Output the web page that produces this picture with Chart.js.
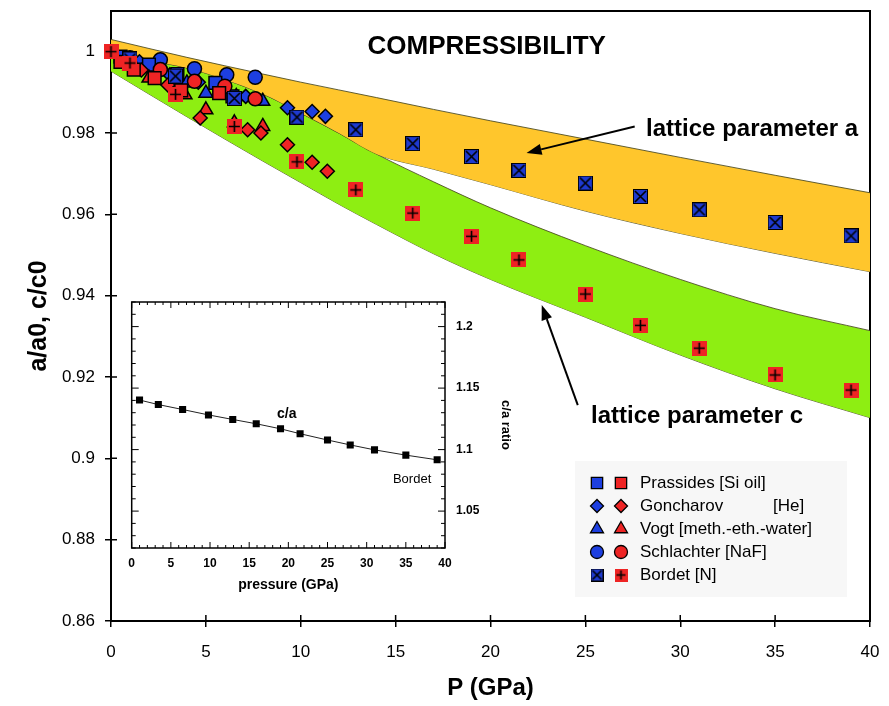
<!DOCTYPE html>
<html>
<head>
<meta charset="utf-8">
<script src="https://cdn.jsdelivr.net/npm/chart.js@4.4.0/dist/chart.umd.min.js"></script>
<style>
  html, body { margin: 0; padding: 0; background: #fff; }
  #wrap { position: relative; width: 889px; height: 706px; }
  #main { position: absolute; left: 0; top: 0; width: 889px; height: 706px; }
  #inset { position: absolute; left: 100px; top: 290px; width: 430px; height: 320px; }
</style>
</head>
<body>
<div id="wrap">
  <canvas id="main" width="889" height="706"></canvas>
  <canvas id="inset" width="430" height="320"></canvas>
</div>
<script>
// ---- main plot: P (GPa) vs a/a0, c/c0 ----
const X_TICKS = [0, 5, 10, 15, 20, 25, 30, 35, 40];
const Y_TICKS = [0.86, 0.88, 0.9, 0.92, 0.94, 0.96, 0.98, 1];

// shaded bands (upper / lower edges)
const BAND_P     = [0, 4, 8, 10, 12, 14, 17, 20, 25, 30, 35, 40];
const BAND_A_TOP = [1.0030, 0.9986, 0.9945, 0.9925, 0.9906, 0.9887, 0.9858, 0.9830, 0.9785, 0.9740, 0.9696, 0.9653];
const BAND_A_BOT = [0.9990, 0.9960, 0.9896, 0.9849, 0.9800, 0.9748, 0.9711, 0.9673, 0.9608, 0.9553, 0.9504, 0.9459];
const BAND_C_TOP = [0.9990, 0.9960, 0.9896, 0.9849, 0.9800, 0.9748, 0.9680, 0.9616, 0.9523, 0.9440, 0.9368, 0.9314];
const BAND_C_BOT = [0.9952, 0.9840, 0.9731, 0.9678, 0.9625, 0.9575, 0.9503, 0.9440, 0.9347, 0.9254, 0.9171, 0.9100];

// Prassides [Si oil]
const PRASSIDES_P_A = [0.5, 2.0, 3.5, 5.5, 6.4];
const PRASSIDES_A   = [0.9988, 0.9968, 0.9945, 0.9923, 0.9890];
const PRASSIDES_P_C = [0.5, 1.2, 2.3, 3.7, 5.7];
const PRASSIDES_C   = [0.9975, 0.9956, 0.9935, 0.9905, 0.9898];

// Goncharov [He]
const GONCHAROV_P_A = [1.5, 3.1, 4.6, 7.1, 9.3, 10.6, 11.3];
const GONCHAROV_A   = [0.9975, 0.9943, 0.9925, 0.9890, 0.9862, 0.9853, 0.9841];
const GONCHAROV_P_C = [1.6, 3.0, 4.7, 7.2, 7.9, 9.3, 10.6, 11.4];
const GONCHAROV_C   = [0.9955, 0.9918, 0.9837, 0.9808, 0.9800, 0.9771, 0.9728, 0.9706];

// Vogt [meth.-eth.-water]
const VOGT_P_A = [1.2, 2.2, 4.0, 5.0, 6.6, 8.0];
const VOGT_A   = [0.9978, 0.9960, 0.9923, 0.9898, 0.9890, 0.9878];
const VOGT_P_C = [1.0, 2.0, 3.9, 5.0, 6.5, 8.0];
const VOGT_C   = [0.9965, 0.9935, 0.9894, 0.9857, 0.9825, 0.9816];

// Schlachter [NaF]
const SCHLACHTER_P_A = [1.0, 2.6, 4.4, 6.1, 7.6];
const SCHLACHTER_A   = [0.9985, 0.9980, 0.9958, 0.9943, 0.9937];
const SCHLACHTER_P_C = [1.0, 2.6, 4.4, 6.0, 7.6];
const SCHLACHTER_C   = [0.9970, 0.9956, 0.9927, 0.9915, 0.9884];

// Bordet [N]
const BORDET_P = [0, 1, 3.4, 6.5, 9.8, 12.9, 15.9, 19, 21.5, 25, 27.9, 31, 35, 39];
const BORDET_A = [1, 0.9982, 0.9940, 0.9885, 0.9839, 0.9808, 0.9774, 0.9742, 0.9708, 0.9677, 0.9644, 0.9611, 0.9580, 0.9547];
const BORDET_C = [1, 0.9972, 0.9895, 0.9816, 0.9729, 0.9660, 0.9603, 0.9546, 0.9488, 0.9404, 0.9327, 0.9271, 0.9205, 0.9168];

// ---- inset: c/a ratio (Bordet) ----
const INSET_X_TICKS = [0, 5, 10, 15, 20, 25, 30, 35, 40];
const INSET_Y_TICKS = [1.05, 1.1, 1.15, 1.2];
const INSET_P  = [1, 3.4, 6.5, 9.8, 12.9, 15.9, 19, 21.5, 25, 27.9, 31, 35, 39];
const CA_RATIO = [1.1403, 1.1366, 1.1326, 1.1282, 1.1245, 1.1210, 1.1169, 1.1129, 1.1078, 1.1038, 1.0998, 1.0955, 1.0917];

const FONT = '"Liberation Sans", Arial, Helvetica, sans-serif';
const BLUE = '#1d3fe0';
const RED = '#ee2424';
const ORANGE = '#ffc62c';
const GREEN = '#8eee12';
const EDGE = 'rgba(70,70,30,0.85)';

Chart.defaults.font.family = FONT;
Chart.defaults.color = '#000';

const pts = (xs, ys) => xs.map((x, i) => ({ x: x, y: ys[i] }));

// filled square with an X or + drawn in black (Bordet markers)
function boxMarker(fill, mark, size) {
  const c = document.createElement('canvas');
  c.width = size; c.height = size;
  const g = c.getContext('2d');
  g.fillStyle = fill;
  g.fillRect(0, 0, size, size);
  g.strokeStyle = '#000';
  g.lineWidth = 1.6;
  g.beginPath();
  const m = 2, h = size / 2;
  if (mark === 'x') {
    g.moveTo(m, m); g.lineTo(size - m, size - m);
    g.moveTo(size - m, m); g.lineTo(m, size - m);
    g.stroke();
    g.lineWidth = 1;
    g.strokeRect(0.5, 0.5, size - 1, size - 1);
  } else {
    g.moveTo(h, m); g.lineTo(h, size - m);
    g.moveTo(m, h); g.lineTo(size - m, h);
    g.stroke();
  }
  return c;
}
const BORDET_A_MARK = boxMarker('#1e3ad0', 'x', 15);
const BORDET_C_MARK = boxMarker(RED, '+', 15);

function scatterSet(xs, ys, style, radius, color, order) {
  return {
    data: pts(xs, ys),
    showLine: false,
    pointStyle: style,
    pointRadius: radius,
    pointBackgroundColor: color,
    pointBorderColor: '#000',
    pointBorderWidth: 1.5,
    clip: false,
    order: order
  };
}
function bandEdge(ys, fill, color) {
  return {
    data: pts(BAND_P, ys),
    borderColor: EDGE,
    borderWidth: 1,
    pointRadius: 0,
    cubicInterpolationMode: 'monotone',
    fill: fill,
    backgroundColor: color,
    order: 10
  };
}

function arrow(ctx, x1, y1, x2, y2) {
  const ang = Math.atan2(y2 - y1, x2 - x1);
  const len = 15, half = 5.5;
  const bx = x2 - len * Math.cos(ang), by = y2 - len * Math.sin(ang);
  ctx.beginPath();
  ctx.moveTo(x1, y1);
  ctx.lineTo(bx, by);
  ctx.stroke();
  ctx.beginPath();
  ctx.moveTo(x2, y2);
  ctx.lineTo(bx + half * Math.sin(ang), by - half * Math.cos(ang));
  ctx.lineTo(bx - half * Math.sin(ang), by + half * Math.cos(ang));
  ctx.closePath();
  ctx.fill();
}

const mainDecor = {
  id: 'mainDecor',
  beforeDatasetsDraw(chart) {
    const { ctx, chartArea: a, scales: { x, y } } = chart;
    ctx.save();
    ctx.strokeStyle = '#000';
    ctx.lineWidth = 2;
    ctx.strokeRect(a.left, a.top, a.right - a.left, a.bottom - a.top);
    // inner half of the crossing tick marks
    ctx.lineWidth = 1.5;
    ctx.beginPath();
    X_TICKS.forEach(v => {
      const px = x.getPixelForValue(v);
      ctx.moveTo(px, a.bottom); ctx.lineTo(px, a.bottom - 6);
    });
    Y_TICKS.forEach(v => {
      const py = y.getPixelForValue(v);
      ctx.moveTo(a.left, py); ctx.lineTo(a.left + 6, py);
    });
    ctx.stroke();
    ctx.restore();
  },
  afterDatasetsDraw(chart) {
    const { ctx, scales: { x, y } } = chart;
    const P = (vx, vy) => [x.getPixelForValue(vx), y.getPixelForValue(vy)];
    ctx.save();
    ctx.fillStyle = '#000';
    ctx.strokeStyle = '#000';
    ctx.textBaseline = 'middle';

    ctx.textAlign = 'center';
    ctx.font = 'bold 26px ' + FONT;
    let p = P(19.8, 1.0012);
    ctx.fillText('COMPRESSIBILITY', p[0], p[1]);

    ctx.textAlign = 'left';
    ctx.font = 'bold 24px ' + FONT;
    p = P(28.2, 0.9808);
    ctx.fillText('lattice parameter a', p[0], p[1]);
    p = P(25.3, 0.9103);
    ctx.fillText('lattice parameter c', p[0], p[1]);

    ctx.lineWidth = 2;
    let s = P(27.6, 0.9816), e = P(21.9, 0.9751);
    arrow(ctx, s[0], s[1], e[0], e[1]);
    s = P(24.6, 0.9131); e = P(22.7, 0.9377);
    arrow(ctx, s[0], s[1], e[0], e[1]);

    // legend
    ctx.fillStyle = '#f7f7f7';
    ctx.fillRect(575, 461, 272, 136);
    const rows = [
      { text: 'Prassides [Si oil]', style: 'rect', r: 8 },
      { text: 'Goncharov', extra: '[He]', style: 'rectRot', r: 6.5 },
      { text: 'Vogt [meth.-eth.-water]', style: 'triangle', r: 7.5 },
      { text: 'Schlachter [NaF]', style: 'circle', r: 6.5 },
      { text: 'Bordet [N]', style: 'bordet', r: 6 }
    ];
    const legA = boxMarker('#1e3ad0', 'x', 13), legC = boxMarker(RED, '+', 13);
    rows.forEach((row, i) => {
      const ry = 483 + i * 23;
      [[597, BLUE], [621, RED]].forEach(([mx, col], k) => {
        ctx.fillStyle = col;
        ctx.strokeStyle = '#000';
        ctx.lineWidth = 1.3;
        const style = row.style === 'bordet' ? (k === 0 ? legA : legC) : row.style;
        Chart.helpers.drawPoint(ctx, { pointStyle: style, radius: row.r, rotation: 0, borderWidth: 1.3 }, mx, ry);
      });
      ctx.fillStyle = '#000';
      ctx.font = '17px ' + FONT;
      ctx.textAlign = 'left';
      ctx.fillText(row.text, 640, ry);
      if (row.extra) ctx.fillText(row.extra, 773, ry);
    });
    ctx.restore();
  }
};

new Chart(document.getElementById('main'), {
  type: 'line',
  data: {
    datasets: [
      bandEdge(BAND_A_TOP, '+1', ORANGE),
      bandEdge(BAND_A_BOT, false, ORANGE),
      bandEdge(BAND_C_TOP, '+1', GREEN),
      bandEdge(BAND_C_BOT, false, GREEN),
      scatterSet(PRASSIDES_P_A, PRASSIDES_A, 'rect', 9, BLUE, 5),
      scatterSet(GONCHAROV_P_A, GONCHAROV_A, 'rectRot', 7, BLUE, 5),
      scatterSet(VOGT_P_A, VOGT_A, 'triangle', 8, BLUE, 5),
      scatterSet(SCHLACHTER_P_A, SCHLACHTER_A, 'circle', 7, BLUE, 5),
      scatterSet(PRASSIDES_P_C, PRASSIDES_C, 'rect', 9, RED, 4),
      scatterSet(GONCHAROV_P_C, GONCHAROV_C, 'rectRot', 7, RED, 4),
      scatterSet(VOGT_P_C, VOGT_C, 'triangle', 8, RED, 4),
      scatterSet(SCHLACHTER_P_C, SCHLACHTER_C, 'circle', 7, RED, 4),
      scatterSet(BORDET_P, BORDET_A, BORDET_A_MARK, 8, BLUE, 2),
      scatterSet(BORDET_P, BORDET_C, BORDET_C_MARK, 8, RED, 1)
    ]
  },
  options: {
    responsive: false,
    animation: false,
    layout: { padding: { left: 0, top: 11, right: 19, bottom: 0 } },
    plugins: { legend: { display: false }, tooltip: { enabled: false } },
    scales: {
      x: {
        type: 'linear', min: 0, max: 40,
        afterBuildTicks: s => { s.ticks = X_TICKS.map(v => ({ value: v })); },
        afterFit: s => { s.height = 85; s.paddingLeft = 0; s.paddingRight = 0; },
        border: { display: true, color: '#000', width: 2 },
        grid: { drawOnChartArea: false, drawTicks: true, tickLength: 6, color: '#000', lineWidth: 1.5 },
        ticks: { color: '#000', font: { size: 17 }, padding: 15, maxRotation: 0 },
        title: { display: true, text: 'P (GPa)', color: '#000', font: { size: 24, weight: 'bold' }, padding: { top: 0, bottom: 3 } }
      },
      y: {
        type: 'linear', min: 0.86, max: 1.01,
        afterBuildTicks: s => { s.ticks = Y_TICKS.map(v => ({ value: v })); },
        afterFit: s => { s.width = 111; s.paddingTop = 0; s.paddingBottom = 0; },
        border: { display: true, color: '#000', width: 2 },
        grid: { drawOnChartArea: false, drawTicks: true, tickLength: 6, color: '#000', lineWidth: 1.5 },
        ticks: { color: '#000', font: { size: 17 }, padding: 10, callback: v => String(Number(v.toFixed(2))) },
        title: { display: true, text: 'a/a0, c/c0', color: '#000', font: { size: 25, weight: 'bold' }, padding: { top: 24, bottom: 0 } }
      }
    }
  },
  plugins: [mainDecor]
});

// ---- inset ----
const insetDecor = {
  id: 'insetDecor',
  beforeDatasetsDraw(chart) {
    const { ctx, chartArea: a, scales: { x, y } } = chart;
    ctx.save();
    ctx.strokeStyle = '#000';
    ctx.lineWidth = 1.5;
    ctx.strokeRect(a.left, a.top, a.right - a.left, a.bottom - a.top);
    ctx.lineWidth = 1;
    ctx.beginPath();
    for (let v = 0; v <= 40; v++) {
      const px = x.getPixelForValue(v);
      const len = v % 5 === 0 ? 6 : 3;
      ctx.moveTo(px, a.bottom); ctx.lineTo(px, a.bottom - len);
      ctx.moveTo(px, a.top); ctx.lineTo(px, a.top + len);
    }
    for (let k = 102; k <= 122; k++) {
      const py = y.getPixelForValue(k / 100);
      const len = k % 5 === 0 ? 7 : 4;
      ctx.moveTo(a.left, py); ctx.lineTo(a.left + len, py);
      ctx.moveTo(a.right, py); ctx.lineTo(a.right - len, py);
    }
    ctx.stroke();
    ctx.restore();
  },
  afterDatasetsDraw(chart) {
    const { ctx, scales: { x, y } } = chart;
    ctx.save();
    ctx.fillStyle = '#000';
    ctx.textAlign = 'center';
    ctx.textBaseline = 'middle';
    ctx.font = 'bold 14px ' + FONT;
    ctx.fillText('c/a', x.getPixelForValue(19.8), y.getPixelForValue(1.1288));
    ctx.font = '13px ' + FONT;
    ctx.fillText('Bordet', x.getPixelForValue(35.8), y.getPixelForValue(1.0757));
    ctx.restore();
  }
};

new Chart(document.getElementById('inset'), {
  type: 'line',
  data: {
    datasets: [{
      data: pts(INSET_P, CA_RATIO),
      borderColor: '#222',
      borderWidth: 1,
      tension: 0,
      pointStyle: 'rect',
      pointRadius: 5,
      pointBackgroundColor: '#000',
      pointBorderColor: '#000',
      pointBorderWidth: 0
    }]
  },
  options: {
    responsive: false,
    animation: false,
    layout: { padding: { left: 31.7, top: 12, right: 0, bottom: 0 } },
    plugins: { legend: { display: false }, tooltip: { enabled: false } },
    scales: {
      x: {
        type: 'linear', min: 0, max: 40,
        afterBuildTicks: s => { s.ticks = INSET_X_TICKS.map(v => ({ value: v })); },
        afterFit: s => { s.height = 62; s.paddingLeft = 0; s.paddingRight = 0; },
        border: { display: false },
        grid: { display: false, drawTicks: false },
        ticks: { color: '#000', font: { size: 12, weight: 'bold' }, padding: 8, maxRotation: 0 },
        title: { display: true, text: 'pressure (GPa)', color: '#000', font: { size: 14, weight: 'bold' }, padding: { top: 0, bottom: 16 } }
      },
      y: {
        type: 'linear', position: 'right', min: 1.02, max: 1.22,
        afterBuildTicks: s => { s.ticks = INSET_Y_TICKS.map(v => ({ value: v })); },
        afterFit: s => { s.width = 85; s.paddingTop = 0; s.paddingBottom = 0; },
        border: { display: false },
        grid: { display: false, drawTicks: false },
        ticks: { color: '#000', font: { size: 12, weight: 'bold' }, padding: 11, callback: v => String(Number(v.toFixed(2))) },
        title: { display: true, text: 'c/a ratio', color: '#000', font: { size: 13, weight: 'bold' }, padding: { top: 17, bottom: 0 } }
      }
    }
  },
  plugins: [insetDecor]
});
</script>
</body>
</html>
